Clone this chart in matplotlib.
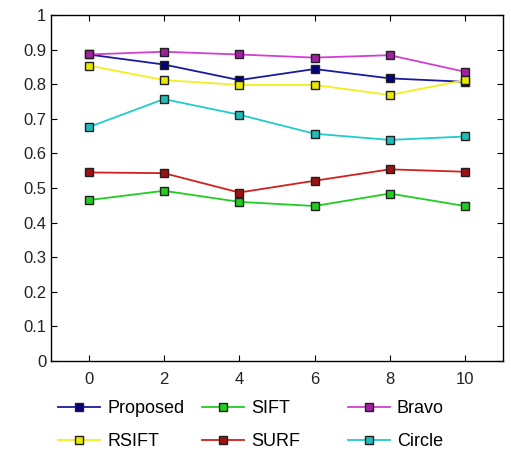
import matplotlib
matplotlib.use("Agg")
import matplotlib.pyplot as plt

plt.rcParams["font.family"] = ["Liberation Sans", "DejaVu Sans"]

x = [0, 2, 4, 6, 8, 10]
proposed = [0.886, 0.857, 0.812, 0.844, 0.817, 0.807]
sift = [0.465, 0.492, 0.460, 0.448, 0.484, 0.448]
bravo = [0.886, 0.894, 0.886, 0.877, 0.884, 0.836]
rsift = [0.854, 0.812, 0.798, 0.798, 0.769, 0.812]
surf = [0.545, 0.543, 0.487, 0.521, 0.554, 0.547]
circle = [0.676, 0.757, 0.712, 0.657, 0.639, 0.649]

series = [
    ("Proposed", proposed, "#1a1a9e", "#000080"),
    ("SIFT", sift, "#22cc22", "#22cc22"),
    ("Bravo", bravo, "#d040d0", "#a020a0"),
    ("RSIFT", rsift, "#f0f020", "#e8e800"),
    ("SURF", surf, "#d02020", "#a01010"),
    ("Circle", circle, "#20cccc", "#20bcbc"),
]

fig = plt.figure(figsize=(5.11, 4.51), dpi=100)
ax = fig.add_axes([0.0998, 0.1996, 0.884, 0.767])

handles = {}
for name, vals, lc, fc in series:
    line, = ax.plot(x, vals, "-s", color=lc, markerfacecolor=fc, markeredgecolor="#202020",
                    markeredgewidth=1.0, markersize=6, linewidth=1.3, label=name)
    handles[name] = line

ax.set_xlim(-1, 11)
ax.set_ylim(0, 1)
ax.set_xticks(x)
ax.set_yticks([i / 10 for i in range(11)])
ax.set_yticklabels(["0"] + [f"0.{i}" for i in range(1, 10)] + ["1"])
ax.tick_params(direction="in", top=True, right=True, labelsize=12, length=4,
               labelcolor="#222222")
ax.tick_params(axis="x", pad=8)
for s in ax.spines.values():
    s.set_linewidth(1.0)

# legend: three columns placed by hand, two rows each
columns = [("Proposed", "RSIFT"), ("SIFT", "SURF"), ("Bravo", "Circle")]
col_x = [0.114, 0.396, 0.681]
for cx, names in zip(col_x, columns):
    leg = fig.legend([handles[n] for n in names], list(names), loc="upper left",
                     bbox_to_anchor=(cx, 0.112), frameon=False, fontsize=13,
                     handlelength=2.3, handletextpad=0.4, labelspacing=0.86,
                     borderpad=0, borderaxespad=0)

fig.savefig("out.png", dpi=100)
